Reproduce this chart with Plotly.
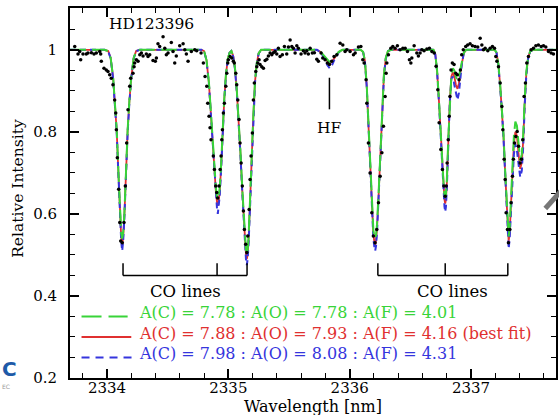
import plotly.graph_objects as go

# ---------------- observed spectrum (black dots) ----------------
obs_wl = [2333.734, 2333.761, 2333.775, 2333.783, 2333.802, 2333.829, 2333.843, 2333.871, 2333.893, 2333.912,
          2333.940, 2333.948, 2333.953, 2333.975, 2333.994, 2334.008, 2334.022, 2334.035, 2334.049, 2334.063,
          2334.072, 2334.077, 2334.085, 2334.096, 2334.105, 2334.113, 2334.126, 2334.140, 2334.151, 2334.162,
          2334.173, 2334.187, 2334.195, 2334.214, 2334.223, 2334.228, 2334.242, 2334.256, 2334.270, 2334.283,
          2334.297, 2334.324, 2334.338, 2334.352, 2334.379, 2334.398, 2334.407, 2334.420, 2334.434, 2334.462,
          2334.476, 2334.489, 2334.503, 2334.530, 2334.544, 2334.558, 2334.571, 2334.599, 2334.627, 2334.641,
          2334.654, 2334.668, 2334.695, 2334.723, 2334.739, 2334.775, 2334.794, 2334.808, 2334.822, 2334.830,
          2334.841, 2334.849, 2334.857, 2334.876, 2334.885, 2334.896, 2334.904, 2334.912, 2334.923, 2334.932,
          2334.940, 2334.946, 2334.951, 2334.959, 2334.967, 2334.979, 2334.987, 2334.995, 2335.000, 2335.014,
          2335.028, 2335.041, 2335.049, 2335.061, 2335.069, 2335.078, 2335.088, 2335.096, 2335.105, 2335.115,
          2335.124, 2335.132, 2335.143, 2335.152, 2335.160, 2335.171, 2335.179, 2335.187, 2335.198, 2335.206,
          2335.214, 2335.226, 2335.234, 2335.242, 2335.253, 2335.261, 2335.275, 2335.289, 2335.303, 2335.317,
          2335.330, 2335.344, 2335.358, 2335.371, 2335.385, 2335.399, 2335.412, 2335.426, 2335.445, 2335.462,
          2335.481, 2335.495, 2335.509, 2335.523, 2335.536, 2335.550, 2335.564, 2335.577, 2335.599, 2335.618,
          2335.632, 2335.646, 2335.659, 2335.674, 2335.692, 2335.709, 2335.729, 2335.742, 2335.764, 2335.778,
          2335.797, 2335.816, 2335.833, 2335.852, 2335.871, 2335.894, 2335.921, 2335.943, 2335.962, 2335.976,
          2336.003, 2336.031, 2336.045, 2336.072, 2336.092, 2336.108, 2336.119, 2336.135, 2336.141, 2336.154,
          2336.168, 2336.182, 2336.195, 2336.209, 2336.223, 2336.237, 2336.251, 2336.265, 2336.278, 2336.292,
          2336.300, 2336.306, 2336.319, 2336.339, 2336.355, 2336.374, 2336.393, 2336.415, 2336.438, 2336.457,
          2336.476, 2336.492, 2336.504, 2336.512, 2336.531, 2336.553, 2336.566, 2336.580, 2336.594, 2336.613,
          2336.636, 2336.657, 2336.677, 2336.696, 2336.712, 2336.726, 2336.737, 2336.751, 2336.764, 2336.776,
          2336.787, 2336.795, 2336.803, 2336.812, 2336.820, 2336.826, 2336.835, 2336.846, 2336.860, 2336.874,
          2336.887, 2336.901, 2336.912, 2336.923, 2336.936, 2336.956, 2336.972, 2336.992, 2337.011, 2337.033,
          2337.055, 2337.075, 2337.089, 2337.102, 2337.116, 2337.138, 2337.157, 2337.176, 2337.193, 2337.204,
          2337.213, 2337.226, 2337.240, 2337.254, 2337.262, 2337.273, 2337.281, 2337.289, 2337.300, 2337.308,
          2337.320, 2337.330, 2337.341, 2337.349, 2337.358, 2337.369, 2337.380, 2337.391, 2337.404, 2337.415,
          2337.426, 2337.437, 2337.448, 2337.459, 2337.473, 2337.495, 2337.514, 2337.534, 2337.555, 2337.578,
          2337.597, 2337.616, 2337.638, 2337.660, 2337.679]
obs_int = [1.008, 0.990, 0.996, 0.976, 0.990, 0.990, 0.992, 0.993, 0.990, 0.992,
           0.996, 0.990, 0.972, 0.955, 0.951, 0.947, 0.939, 0.931, 0.915, 0.878,
           0.846, 0.805, 0.737, 0.660, 0.579, 0.534, 0.530, 0.579, 0.668, 0.773,
           0.854, 0.911, 0.931, 0.943, 0.959, 0.968, 0.976, 0.972, 0.988, 0.992,
           0.985, 0.990, 0.984, 0.988, 0.974, 0.972, 0.980, 1.015, 1.008, 1.032,
           1.004, 0.988, 0.992, 1.018, 0.996, 0.968, 0.985, 1.010, 1.015, 1.000,
           0.990, 0.972, 0.996, 1.000, 0.998, 0.992, 0.968, 0.935, 0.911, 0.870,
           0.838, 0.810, 0.781, 0.741, 0.708, 0.668, 0.652, 0.639, 0.668, 0.708,
           0.741, 0.781, 0.805, 0.846, 0.870, 0.911, 0.943, 0.968, 0.976, 0.984,
           0.980, 0.972, 0.968, 0.943, 0.915, 0.878, 0.830, 0.773, 0.724, 0.668,
           0.607, 0.562, 0.526, 0.506, 0.546, 0.611, 0.684, 0.741, 0.797, 0.878,
           0.919, 0.947, 0.959, 0.968, 0.976, 0.964, 0.959, 0.955, 0.974, 0.977,
           0.985, 0.992, 0.988, 0.993, 0.996, 0.990, 1.004, 0.984, 0.988, 1.008,
           0.990, 1.007, 1.024, 1.008, 1.004, 0.992, 1.010, 1.004, 0.990, 0.998,
           0.992, 0.998, 0.990, 1.004, 0.992, 0.993, 0.977, 0.972, 0.992, 0.980,
           0.976, 0.968, 0.964, 0.972, 0.984, 0.988, 1.016, 1.012, 0.996, 1.000,
           0.996, 0.988, 0.992, 1.007, 1.008, 0.976, 0.968, 0.927, 0.870, 0.773,
           0.700, 0.603, 0.546, 0.530, 0.562, 0.627, 0.692, 0.749, 0.814, 0.886,
           0.943, 0.968, 0.988, 1.004, 1.008, 1.004, 1.010, 1.000, 1.004, 1.004,
           0.996, 0.976, 0.968, 0.980, 1.010, 0.992, 0.985, 0.992, 1.000, 0.998,
           1.002, 1.004, 0.996, 0.992, 0.960, 0.903, 0.822, 0.757, 0.708, 0.668,
           0.643, 0.668, 0.724, 0.781, 0.838, 0.886, 0.951, 0.968, 0.964, 0.943,
           0.939, 0.927, 0.951, 0.988, 1.000, 1.008, 1.012, 1.015, 1.010, 1.008,
           1.007, 1.028, 1.012, 1.000, 1.004, 0.998, 1.004, 1.008, 1.004, 0.984,
           0.972, 0.959, 0.919, 0.862, 0.805, 0.733, 0.684, 0.603, 0.562, 0.530,
           0.562, 0.627, 0.692, 0.733, 0.773, 0.789, 0.801, 0.765, 0.724, 0.733,
           0.781, 0.886, 0.919, 0.968, 0.984, 1.000, 1.004, 1.010, 1.012, 1.008,
           1.010, 1.007, 0.996, 0.992, 0.990]

# ---------------- synthetic spectra (model curves) ----------------
model_wl = [2333.695, 2333.980, 2334.010, 2334.030, 2334.050, 2334.065, 2334.080, 2334.095, 2334.107, 2334.117,
            2334.125, 2334.133, 2334.143, 2334.155, 2334.170, 2334.185, 2334.200, 2334.220, 2334.240, 2334.270,
            2334.780, 2334.800, 2334.820, 2334.840, 2334.855, 2334.870, 2334.885, 2334.897, 2334.906, 2334.913,
            2334.920, 2334.929, 2334.940, 2334.953, 2334.966, 2334.980, 2334.995, 2335.010, 2335.025, 2335.040,
            2335.055, 2335.070,
            2335.085, 2335.100, 2335.115, 2335.127, 2335.138, 2335.145, 2335.152, 2335.159, 2335.166, 2335.177,
            2335.190, 2335.205, 2335.220, 2335.235, 2335.250, 2335.270,
            2335.730, 2335.760, 2335.790, 2335.815, 2335.835, 2335.855, 2335.880, 2335.910, 2335.940,
            2336.090, 2336.110, 2336.125, 2336.140, 2336.155, 2336.170, 2336.183, 2336.195, 2336.203, 2336.210,
            2336.217, 2336.225, 2336.238, 2336.252, 2336.267, 2336.282, 2336.297, 2336.315, 2336.340,
            2336.690, 2336.705, 2336.720, 2336.735, 2336.750, 2336.763, 2336.774, 2336.781, 2336.787, 2336.793,
            2336.800, 2336.812, 2336.825, 2336.838, 2336.850, 2336.862, 2336.875, 2336.888, 2336.900, 2336.912,
            2336.925, 2336.940, 2336.960,
            2337.195, 2337.210, 2337.225, 2337.240, 2337.254, 2337.267, 2337.281, 2337.293, 2337.302, 2337.310,
            2337.318, 2337.328, 2337.340, 2337.353, 2337.365, 2337.378, 2337.392, 2337.405, 2337.418, 2337.430,
            2337.442, 2337.455, 2337.470, 2337.488, 2337.510, 2337.700]

model_low = [1.0, 1.0, 0.997, 0.980, 0.935, 0.880, 0.805, 0.695, 0.600, 0.553,
             0.540, 0.553, 0.600, 0.695, 0.805, 0.880, 0.935, 0.980, 0.997, 1.0,
             1.0, 0.997, 0.975, 0.920, 0.850, 0.770, 0.700, 0.665, 0.643, 0.635,
             0.643, 0.665, 0.720, 0.805, 0.880, 0.940, 0.978, 0.993, 0.997, 0.985,
             0.955, 0.900,
             0.835, 0.750, 0.660, 0.590, 0.535, 0.512, 0.500, 0.512, 0.540, 0.610,
             0.720, 0.835, 0.925, 0.970, 0.992, 1.0,
             1.0, 0.995, 0.985, 0.975, 0.970, 0.975, 0.985, 0.995, 1.0,
             1.0, 0.995, 0.975, 0.915, 0.820, 0.710, 0.610, 0.560, 0.545, 0.540,
             0.548, 0.575, 0.650, 0.755, 0.865, 0.940, 0.980, 0.997, 1.0,
             1.0, 0.990, 0.950, 0.880, 0.790, 0.715, 0.670, 0.648, 0.640, 0.648,
             0.680, 0.780, 0.880, 0.940, 0.955, 0.950, 0.935, 0.925, 0.935, 0.955,
             0.978, 0.993, 1.0,
             1.0, 0.993, 0.965, 0.915, 0.860, 0.795, 0.705, 0.625, 0.570, 0.545,
             0.565, 0.630, 0.715, 0.790, 0.825, 0.815, 0.770, 0.730, 0.745, 0.795,
             0.880, 0.945, 0.982, 0.997, 1.0, 1.0]

model_best = [1.0, 1.0, 0.997, 0.980, 0.933, 0.877, 0.802, 0.692, 0.595, 0.543,
              0.525, 0.543, 0.595, 0.692, 0.802, 0.877, 0.933, 0.980, 0.997, 1.0,
              1.0, 0.997, 0.975, 0.918, 0.847, 0.766, 0.694, 0.655, 0.630, 0.620,
              0.630, 0.655, 0.713, 0.800, 0.877, 0.938, 0.977, 0.993, 0.997, 0.985,
              0.954, 0.898,
              0.832, 0.746, 0.655, 0.585, 0.528, 0.502, 0.490, 0.502, 0.533, 0.605,
              0.716, 0.832, 0.923, 0.969, 0.992, 1.0,
              1.0, 0.995, 0.983, 0.972, 0.966, 0.972, 0.983, 0.995, 1.0,
              1.0, 0.995, 0.974, 0.913, 0.817, 0.706, 0.605, 0.550, 0.532, 0.525,
              0.535, 0.565, 0.645, 0.751, 0.862, 0.938, 0.979, 0.997, 1.0,
              1.0, 0.990, 0.949, 0.877, 0.786, 0.710, 0.660, 0.635, 0.625, 0.635,
              0.672, 0.775, 0.876, 0.935, 0.945, 0.935, 0.915, 0.905, 0.918, 0.945,
              0.973, 0.992, 1.0,
              1.0, 0.993, 0.964, 0.913, 0.857, 0.791, 0.700, 0.620, 0.560, 0.533,
              0.553, 0.620, 0.700, 0.770, 0.800, 0.790, 0.745, 0.710, 0.725, 0.780,
              0.870, 0.940, 0.980, 0.997, 1.0, 1.0]

model_high = [1.0, 1.0, 0.997, 0.979, 0.931, 0.874, 0.798, 0.688, 0.590, 0.533,
              0.510, 0.533, 0.590, 0.688, 0.798, 0.874, 0.931, 0.979, 0.997, 1.0,
              1.0, 0.997, 0.974, 0.916, 0.844, 0.762, 0.688, 0.645, 0.615, 0.600,
              0.615, 0.645, 0.705, 0.795, 0.874, 0.936, 0.976, 0.993, 0.997, 0.984,
              0.952, 0.895,
              0.828, 0.742, 0.650, 0.580, 0.518, 0.490, 0.475, 0.490, 0.523, 0.600,
              0.712, 0.828, 0.921, 0.968, 0.991, 1.0,
              1.0, 0.994, 0.980, 0.963, 0.955, 0.963, 0.980, 0.994, 1.0,
              1.0, 0.995, 0.973, 0.911, 0.813, 0.702, 0.600, 0.540, 0.520, 0.510,
              0.522, 0.555, 0.640, 0.747, 0.859, 0.936, 0.978, 0.997, 1.0,
              1.0, 0.989, 0.947, 0.874, 0.782, 0.705, 0.650, 0.618, 0.605, 0.618,
              0.660, 0.770, 0.872, 0.930, 0.935, 0.915, 0.893, 0.878, 0.895, 0.930,
              0.968, 0.991, 1.0,
              1.0, 0.993, 0.963, 0.911, 0.854, 0.787, 0.695, 0.615, 0.550, 0.515,
              0.540, 0.605, 0.685, 0.745, 0.770, 0.755, 0.720, 0.690, 0.705, 0.765,
              0.862, 0.936, 0.978, 0.996, 1.0, 1.0]

assert len(model_wl) == len(model_low) == len(model_best) == len(model_high)
assert len(obs_wl) == len(obs_int)

# ---------------- labels ----------------
legend_labels = ["A(C) = 7.78 : A(O) = 7.78 : A(F) = 4.01",
                 "A(C) = 7.88 : A(O) = 7.93 : A(F) = 4.16 (best fit)",
                 "A(C) = 7.98 : A(O) = 8.08 : A(F) = 4.31"]
legend_y = [0.35, 0.30, 0.25]
star_name = "HD123396"
co_label = "CO lines"
co_left = [2334.132, 2334.907, 2335.154]
co_right = [2336.232, 2336.787, 2337.303]
hf_wl = 2335.833

GREEN = "#38d438"
RED = "#e03030"
BLUE = "#3535dd"
SERIF = "DejaVu Serif"

fig = go.Figure()
fig.add_trace(go.Scatter(x=model_wl, y=model_best, mode="lines",
                         line=dict(color=RED, width=1.8), showlegend=False))
fig.add_trace(go.Scatter(x=model_wl, y=model_high, mode="lines",
                         line=dict(color=BLUE, width=2, dash="6px,4px"), showlegend=False))
fig.add_trace(go.Scatter(x=model_wl, y=model_low, mode="lines",
                         line=dict(color=GREEN, width=2, dash="16px,6px"), showlegend=False))
fig.add_trace(go.Scatter(x=obs_wl, y=obs_int, mode="markers",
                         marker=dict(color="black", size=3.5), showlegend=False))

# legend samples
fig.add_trace(go.Scatter(x=[2333.79, 2334.17], y=[legend_y[0]] * 2, mode="lines",
                         line=dict(color=GREEN, width=2, dash="20px,7px"), showlegend=False))
fig.add_trace(go.Scatter(x=[2333.79, 2334.20], y=[legend_y[1]] * 2, mode="lines",
                         line=dict(color=RED, width=1.8), showlegend=False))
fig.add_trace(go.Scatter(x=[2333.79, 2334.21], y=[legend_y[2]] * 2, mode="lines",
                         line=dict(color=BLUE, width=2, dash="8px,6px"), showlegend=False))

annotations = []
for lab, y, c in zip(legend_labels, legend_y, [GREEN, RED, BLUE]):
    annotations.append(dict(x=2334.245, y=y + 0.009, xref="x", yref="y", text=lab, showarrow=False,
                            xanchor="left", yanchor="middle",
                            font=dict(family=SERIF, size=16, color=c)))
annotations.append(dict(x=2334.0, y=1.063, text=star_name, showarrow=False, xanchor="left",
                        yanchor="middle", font=dict(family=SERIF, size=15.5, color="black")))
annotations.append(dict(x=hf_wl, y=0.81, text="HF", showarrow=False, xanchor="center",
                        yanchor="middle", font=dict(family=SERIF, size=15.5, color="black")))
annotations.append(dict(x=2334.643, y=0.412, text=co_label, showarrow=False, xanchor="center",
                        yanchor="middle", font=dict(family=SERIF, size=16.5, color="black")))
annotations.append(dict(x=2336.844, y=0.412, text=co_label, showarrow=False, xanchor="center",
                        yanchor="middle", font=dict(family=SERIF, size=16.5, color="black")))
# axis titles
annotations.append(dict(xref="paper", yref="paper", x=-0.107, y=0.514, text="Relative Intensity",
                        textangle=-90, showarrow=False, xanchor="center", yanchor="middle",
                        font=dict(family=SERIF, size=15.5, color="black")))
annotations.append(dict(xref="paper", yref="paper", x=0.5, y=-0.077, text="Wavelength [nm]",
                        showarrow=False, xanchor="center", yanchor="middle",
                        font=dict(family=SERIF, size=16, color="black")))
# page artefacts around the figure
annotations.append(dict(xref="paper", yref="paper", x=-0.144, y=0.025, text="<b>C</b>",
                        showarrow=False, xanchor="left", yanchor="middle",
                        font=dict(family="DejaVu Sans", size=20, color="#1e5aa8")))
annotations.append(dict(xref="paper", yref="paper", x=-0.144, y=-0.022, text="EC",
                        showarrow=False, xanchor="left", yanchor="middle",
                        font=dict(family="DejaVu Sans", size=6, color="#999999")))

shapes = []
shapes.append(dict(type="line", xref="x", yref="y", x0=hf_wl, x1=hf_wl, y0=0.855, y1=0.932,
                   line=dict(color="black", width=1.5)))
for br in (co_left, co_right):
    shapes.append(dict(type="line", xref="x", yref="y", x0=br[0], x1=br[-1], y0=0.45, y1=0.45,
                       line=dict(color="black", width=1.5)))
    for xv in br:
        shapes.append(dict(type="line", xref="x", yref="y", x0=xv, x1=xv, y0=0.45, y1=0.48,
                           line=dict(color="black", width=1.5)))
shapes.append(dict(type="line", xref="paper", yref="paper", x0=0.978, x1=1.01, y0=0.458, y1=0.505,
                   line=dict(color="#777777", width=5)))

axis_common = dict(showline=True, linecolor="black", linewidth=2, mirror="ticks",
                   ticks="inside", ticklen=9, tickwidth=1.5, tickcolor="black",
                   showgrid=False, zeroline=False, automargin=False,
                   tickfont=dict(family=SERIF, size=15, color="black"))

fig.update_layout(
    template="none",
    width=559, height=415,
    margin=dict(l=70, r=3, t=8, b=37),
    paper_bgcolor="white", plot_bgcolor="white",
    showlegend=False,
    annotations=annotations, shapes=shapes,
    xaxis=dict(range=[2333.695, 2337.70], tick0=2334, dtick=1, ticklabelstandoff=-5,
               minor=dict(tick0=2334, dtick=0.2, ticks="inside", ticklen=5, tickwidth=1.2, tickcolor="black"),
               **axis_common),
    yaxis=dict(range=[0.2, 1.102], tick0=0.2, dtick=0.2, ticklabelstandoff=8,
               minor=dict(tick0=0.2, dtick=0.05, ticks="inside", ticklen=5, tickwidth=1.2, tickcolor="black"),
               **axis_common),
)

fig.write_html("out.html", config={"displayModeBar": False},
               post_script="document.body.style.margin='0';")
